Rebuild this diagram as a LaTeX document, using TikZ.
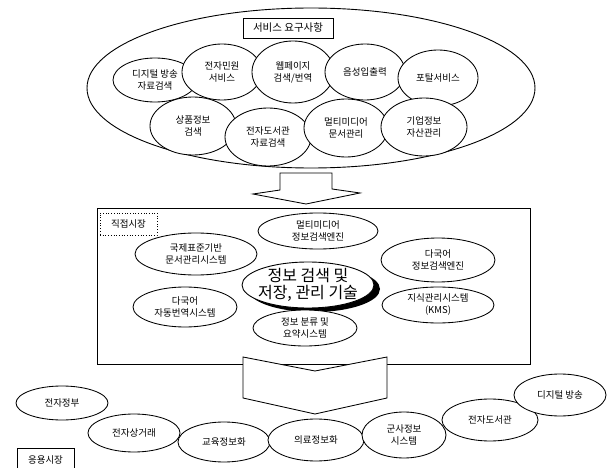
\documentclass[tikz,border=0pt]{standalone}
\usepackage{fontspec}
\newfontfamily\kr{Noto Sans CJK KR}
\usetikzlibrary{shapes.geometric}
\begin{document}
\begin{tikzpicture}[x=1pt,y=-1pt,
  ell/.style={ellipse, draw, fill=white, inner sep=0pt, line width=0.85pt, align=center,
    font=\kr\fontsize{9.5}{12}\selectfont},
  lbl/.style={draw, fill=white, inner sep=0pt, line width=0.8pt, font=\kr\fontsize{9.5}{12}\selectfont},
  blockarrow/.style={draw, fill=white, line width=0.85pt, line join=miter}
]
\useasboundingbox (0,0) rectangle (614,468);

% service requirements
\node[ellipse, draw, line width=0.9pt, inner sep=0pt, minimum width=448, minimum height=160] (svc) at (311,88) {};
\node[lbl, minimum width=90, minimum height=20, font=\kr\fontsize{10.5}{12}\selectfont] (req) at (288,28) {서비스 요구사항};

\node[ell, minimum width=84, minimum height=44] (s1) at (155,80) {디지털 방송\\자료검색};
\node[ell, minimum width=80, minimum height=56] (s2) at (222,72) {전자민원\\서비스};
\node[ell, minimum width=82, minimum height=62] (s3) at (293,72) {웹페이지\\검색/번역};
\node[ell, minimum width=80, minimum height=56] (s4) at (365,72) {음성입출력};
\node[ell, minimum width=80, minimum height=56] (s5) at (438,78) {포탈서비스};
\node[ell, minimum width=86, minimum height=58] (s6) at (193,126) {상품정보\\검색};
\node[ell, minimum width=86, minimum height=58] (s7) at (268,137) {전자도서관\\자료검색};
\node[ell, minimum width=84, minimum height=58] (s8) at (346,128) {멀티미디어\\문서관리};
\node[ell, minimum width=86, minimum height=58] (s9) at (424,127) {기업정보\\자산관리};

% arrow down to direct market
\draw[blockarrow] (280,173) -- (280,190) -- (253,194) -- (306,204) -- (360,193) -- (332,189) -- (332,173) -- cycle;

% direct market
\node[draw, line width=0.85pt, inner sep=0pt, minimum width=433, minimum height=156] (direct) at (313.5,286) {};
\node[draw, dotted, line width=0.7pt, inner sep=0pt, minimum width=57, minimum height=22,
  font=\kr\fontsize{9.5}{12}\selectfont] (dlabel) at (128.5,224) {직접시장};

\node[ell, minimum width=120, minimum height=36] (d1) at (318,231) {멀티미디어\\정보검색엔진};
\node[ell, minimum width=122, minimum height=42] (d2) at (196,254) {국제표준기반\\문서관리시스템};
\node[ell, minimum width=114, minimum height=44] (d3) at (438,260) {다국어\\정보검색엔진};
\node[ellipse, fill=black, inner sep=0pt, minimum width=132, minimum height=46] (coreshadow) at (314,289) {};
\node[ellipse, draw, fill=white, line width=0.9pt, inner sep=0pt, minimum width=132, minimum height=46] (core) at (308,285) {};
\node[font=\kr\fontsize{16}{17}\selectfont, align=center, inner sep=0pt] (coretext) at (core.center) {정보 검색 및\\저장, 관리 기술};
\node[ell, minimum width=104, minimum height=40] (d4) at (185,307) {다국어\\자동번역시스템};
\node[ell, minimum width=112, minimum height=36] (d5) at (438,305) {지식관리시스템\\(KMS)};
\node[ell, minimum width=104, minimum height=36] (d6) at (305,328) {정보 분류 및\\요약시스템};

% arrow down to application market
\draw[blockarrow] (243,357) -- (315,371) -- (387,357) -- (387,398) -- (315,414) -- (243,398) -- cycle;

% application market
\node[ell, minimum width=92, minimum height=34] (a1) at (62,403) {전자정부};
\node[ell, minimum width=92, minimum height=38] (a2) at (134,433) {전자상거래};
\node[ell, minimum width=92, minimum height=40] (a3) at (224,442) {교육정보화};
\node[ell, minimum width=96, minimum height=42] (a4) at (316,440) {의료정보화};
\node[ell, minimum width=84, minimum height=46] (a5) at (404,435) {군사정보\\시스템};
\node[ell, minimum width=96, minimum height=42] (a6) at (490,420) {전자도서관};
\node[ell, minimum width=92, minimum height=42] (a7) at (560,395) {디지털 방송};
\node[lbl, minimum width=57, minimum height=24] (alabel) at (45.5,460) {응용시장};
\end{tikzpicture}
\end{document}
